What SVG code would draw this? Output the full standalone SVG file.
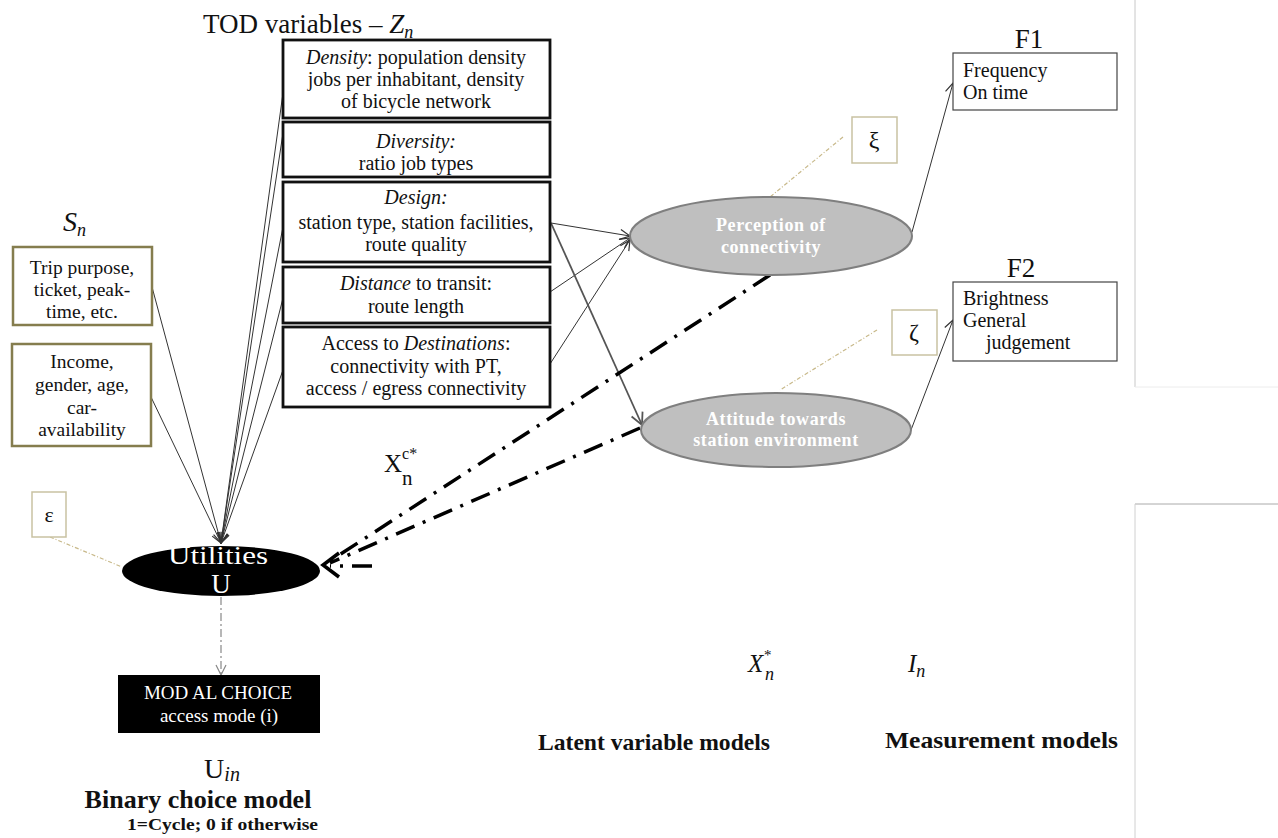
<svg xmlns="http://www.w3.org/2000/svg" width="1278" height="838" viewBox="0 0 1278 838">
<style>
text{font-family:"Liberation Serif",serif;fill:#111}
.bt{font-size:20px;text-anchor:middle}
.sbt{font-size:19.5px;text-anchor:middle}
.i{font-style:italic}
.tod{fill:#fff;stroke:#111;stroke-width:2.8}
.sb{fill:#fff;stroke:#857d4e;stroke-width:2.5}
.eb{fill:#fff;stroke:#c9c2a2;stroke-width:1.5}
.thin{stroke:#333;stroke-width:1;fill:none}
.dd{stroke:#000;stroke-width:3.5;fill:none;stroke-dasharray:20 9 3 9}
.dot{stroke:#c8b98a;stroke-width:1.2;fill:none;stroke-dasharray:4 2 1 2}
.lat{fill:#bfbfbf;stroke:#7f7f7f;stroke-width:2}
.lt{fill:#fff;font-weight:bold;font-size:18px;letter-spacing:0.6px;text-anchor:middle}
.wt{fill:#fff;text-anchor:middle}
.fb{font-size:20px}
</style>
<defs>
<marker id="oa" markerUnits="userSpaceOnUse" markerWidth="12" markerHeight="12" viewBox="0 0 12 12" refX="11" refY="6" orient="auto">
<path d="M1,1 L11,6 L1,11" fill="none" stroke="#333" stroke-width="1.2"/>
</marker>
<marker id="ga" markerUnits="userSpaceOnUse" markerWidth="14" markerHeight="14" viewBox="0 0 14 14" refX="13" refY="7" orient="auto">
<path d="M1,1 L13,7 L1,13" fill="none" stroke="#555" stroke-width="1.8"/>
</marker>
<marker id="ya" markerUnits="userSpaceOnUse" markerWidth="12" markerHeight="12" viewBox="0 0 12 12" refX="11" refY="6" orient="auto">
<path d="M1,1 L11,6 L1,11" fill="none" stroke="#888" stroke-width="1.2"/>
</marker>
</defs>

<g id="panels" fill="none">
<line x1="1135" y1="0" x2="1135" y2="387" stroke="#c8c8c8" stroke-width="1"/>
<line x1="1135" y1="387" x2="1278" y2="387" stroke="#ececec" stroke-width="1"/>
<line x1="1135" y1="504" x2="1278" y2="504" stroke="#aaa" stroke-width="1"/>
<line x1="1135" y1="504" x2="1135" y2="838" stroke="#d0d0d0" stroke-width="1"/>
</g>

<g id="connectors">
<line class="thin" x1="152" y1="287" x2="221" y2="543" marker-end="url(#oa)"/>
<line class="thin" x1="151" y1="397" x2="221" y2="543" marker-end="url(#oa)"/>
<line class="thin" x1="283" y1="93" x2="221" y2="543" marker-end="url(#oa)"/>
<line class="thin" x1="283" y1="133" x2="221" y2="543" marker-end="url(#oa)"/>
<line class="thin" x1="283" y1="227" x2="221" y2="543" marker-end="url(#oa)"/>
<line class="thin" x1="283" y1="298" x2="221" y2="543" marker-end="url(#oa)"/>
<line class="thin" x1="283" y1="370" x2="221" y2="543" marker-end="url(#oa)"/>
<line class="dot" x1="50" y1="537" x2="122" y2="567"/>
<line x1="221" y1="597" x2="221" y2="675" stroke="#888" stroke-width="1.2" stroke-dasharray="8 3 2 3" marker-end="url(#ya)"/>
<line class="thin" x1="551" y1="223" x2="630" y2="236" marker-end="url(#oa)"/>
<line class="thin" x1="550" y1="292" x2="630" y2="238" marker-end="url(#oa)"/>
<line class="thin" x1="550" y1="364" x2="630" y2="240" marker-end="url(#oa)"/>
<line x1="551" y1="223" x2="642" y2="425" stroke="#555" stroke-width="1.8" marker-end="url(#ga)"/>
<line class="dd" x1="770" y1="275" x2="330" y2="561"/>
<line class="dd" x1="640" y1="428" x2="330" y2="563"/>
<line class="dd" x1="372" y1="566" x2="330" y2="566"/>
<path d="M339,553 L323,565 L339,577" fill="none" stroke="#000" stroke-width="3.5"/>
<line class="dot" x1="843" y1="137" x2="770" y2="197"/>
<line class="dot" x1="877" y1="330" x2="780" y2="390"/>
<line class="thin" x1="912" y1="232" x2="953" y2="83" marker-end="url(#oa)"/>
<line class="thin" x1="911" y1="430" x2="953" y2="320" marker-end="url(#oa)"/>
</g>

<g id="tod-title">
<text x="203" y="33" font-size="27">TOD variables – <tspan class="i">Z</tspan><tspan class="i" font-size="18" dy="5">n</tspan></text>
</g>

<g id="density">
<rect class="tod" x="283" y="40" width="267" height="78"/>
<text class="bt" x="416" y="64"><tspan class="i">Density</tspan>: population density</text>
<text class="bt" x="416" y="86">jobs per inhabitant, density</text>
<text class="bt" x="416" y="108">of bicycle network</text>
</g>
<g id="diversity">
<rect class="tod" x="283" y="122" width="267" height="55"/>
<text class="bt i" x="416" y="148">Diversity:</text>
<text class="bt" x="416" y="170">ratio job types</text>
</g>
<g id="design">
<rect class="tod" x="283" y="182" width="267" height="80"/>
<text class="bt i" x="416" y="204">Design:</text>
<text class="bt" x="416" y="229">station type, station facilities,</text>
<text class="bt" x="416" y="251">route quality</text>
</g>
<g id="distance">
<rect class="tod" x="283" y="267" width="267" height="56"/>
<text class="bt" x="416" y="290"><tspan class="i">Distance</tspan> to transit:</text>
<text class="bt" x="416" y="313">route length</text>
</g>
<g id="access">
<rect class="tod" x="283" y="327" width="267" height="80"/>
<text class="bt" x="416" y="350">Access to <tspan class="i">Destinations</tspan>:</text>
<text class="bt" x="416" y="373">connectivity with PT,</text>
<text class="bt" x="416" y="395">access / egress connectivity</text>
</g>

<g id="sn-title">
<text x="63" y="231" font-size="28" class="i">S<tspan font-size="18" dy="5">n</tspan></text>
</g>
<g id="trip">
<rect class="sb" x="13" y="247" width="139" height="78"/>
<text class="sbt" x="82" y="274">Trip purpose,</text>
<text class="sbt" x="82" y="296">ticket, peak-</text>
<text class="sbt" x="82" y="318">time, etc.</text>
</g>
<g id="income">
<rect class="sb" x="12" y="344" width="139" height="102"/>
<text class="sbt" x="82" y="368">Income,</text>
<text class="sbt" x="82" y="391">gender, age,</text>
<text class="sbt" x="82" y="414">car-</text>
<text class="sbt" x="82" y="436">availability</text>
</g>

<g id="epsilon">
<rect class="eb" x="32" y="492" width="34" height="45"/>
<text x="49" y="522" font-size="22" text-anchor="middle">ε</text>
</g>

<g id="utilities">
<ellipse cx="221" cy="571" rx="99" ry="25" fill="#000"/>
<text class="wt" x="218" y="564" font-size="26" textLength="100" lengthAdjust="spacingAndGlyphs">Utilities</text>
<text class="wt" x="221" y="593" font-size="27">U</text>
</g>

<g id="modal">
<rect x="118" y="675" width="202" height="58" fill="#000"/>
<text class="wt" x="218" y="699" font-size="19">MOD AL CHOICE</text>
<text class="wt" x="219" y="722" font-size="19">access mode (i)</text>
</g>

<g id="binary">
<text x="222" y="778" font-size="28" text-anchor="middle">U<tspan class="i" font-size="20" dy="3">in</tspan></text>
<text x="198" y="808" font-size="26" font-weight="bold" text-anchor="middle">Binary choice model</text>
<text x="127" y="830" font-size="16" font-weight="bold" textLength="191" lengthAdjust="spacingAndGlyphs">1=Cycle; 0 if otherwise</text>
</g>

<g id="xcn">
<text x="384" y="472" font-size="25">X<tspan font-size="16" dy="-13">c*</tspan><tspan x="402" font-size="21" dy="26">n</tspan></text>
</g>

<g id="perception">
<ellipse class="lat" cx="771" cy="236" rx="141" ry="39"/>
<text class="lt" x="771" y="231">Perception of</text>
<text class="lt" x="771" y="253">connectivity</text>
</g>
<g id="attitude">
<ellipse class="lat" cx="776" cy="430" rx="135" ry="37"/>
<text class="lt" x="776" y="425">Attitude towards</text>
<text class="lt" x="776" y="446">station environment</text>
</g>

<g id="xi">
<rect class="eb" x="852" y="117" width="45" height="46"/>
<text x="874" y="148" font-size="24" text-anchor="middle">ξ</text>
</g>
<g id="zeta">
<rect class="eb" x="892" y="310" width="45" height="45"/>
<text x="914" y="340" font-size="24" text-anchor="middle">ζ</text>
</g>

<g id="f1">
<text x="1029" y="48" font-size="27" text-anchor="middle">F1</text>
<rect x="953" y="53" width="164" height="57" fill="#fff" stroke="#444" stroke-width="1.2"/>
<text class="fb" x="963" y="77">Frequency</text>
<text class="fb" x="963" y="99">On time</text>
</g>
<g id="f2">
<text x="1021" y="277" font-size="27" text-anchor="middle">F2</text>
<rect x="953" y="282" width="164" height="79" fill="#fff" stroke="#444" stroke-width="1.2"/>
<text class="fb" x="963" y="305">Brightness</text>
<text class="fb" x="963" y="327">General</text>
<text class="fb" x="986" y="349">judgement</text>
</g>

<g id="bottom-labels">
<text x="748" y="672" font-size="25" class="i">X<tspan font-size="15" dy="-12">*</tspan><tspan x="765" font-size="18" dy="20">n</tspan></text>
<text x="908" y="672" font-size="25" class="i">I<tspan font-size="18" dy="5">n</tspan></text>
<text x="538" y="750" font-size="24" font-weight="bold" textLength="232" lengthAdjust="spacingAndGlyphs">Latent variable models</text>
<text x="885" y="748" font-size="23" font-weight="bold" textLength="233" lengthAdjust="spacingAndGlyphs">Measurement models</text>
</g>
</svg>
